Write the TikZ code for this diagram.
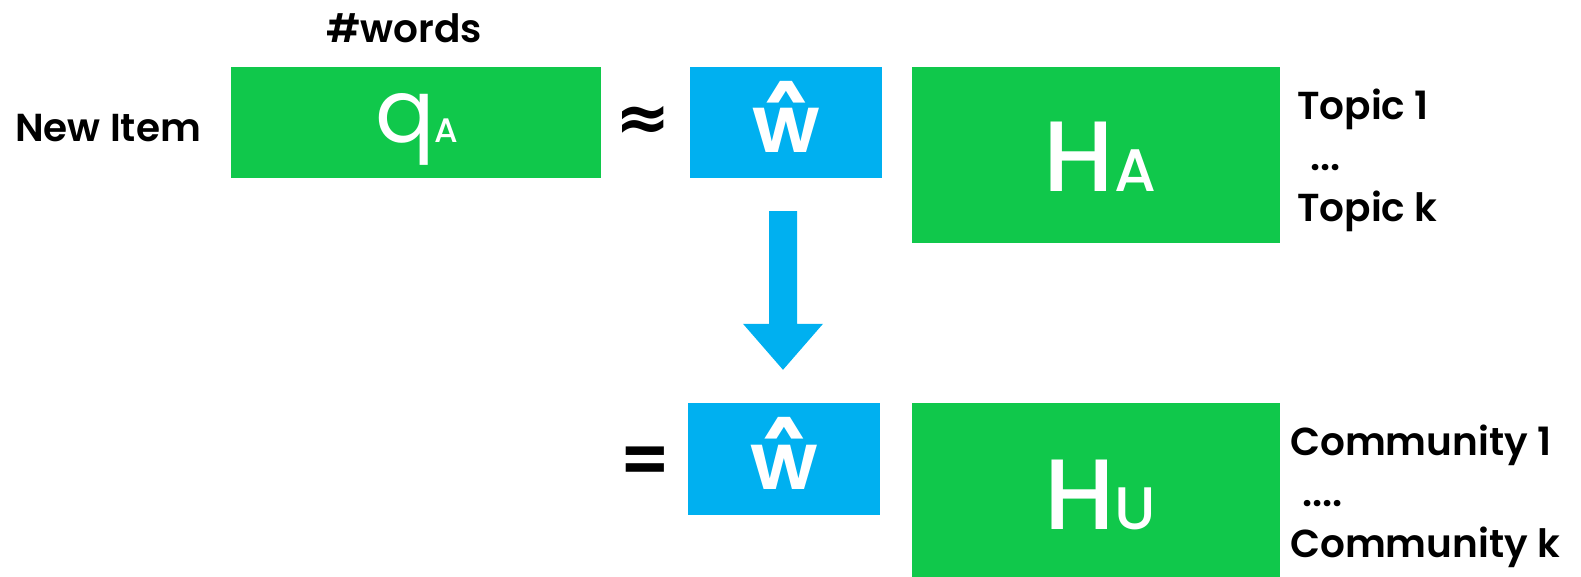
\documentclass[tikz,border=0pt]{standalone}
\usepackage{fontspec}
\setmainfont{Poppins}[BoldFont={Poppins SemiBold}]
\newfontfamily\popmed{Poppins Medium}
\newfontfamily\popbold{Poppins Bold}
\newfontfamily\dejavu{DejaVu Sans}
\usetikzlibrary{calc}
\definecolor{mgreen}{HTML}{10C84B}
\definecolor{mblue}{HTML}{00B0F0}
\newcommand{\whatsym}{\ooalign{\hfil{\popbold\fontsize{55}{55}\selectfont\raisebox{\dimexpr72pt-\height\relax}{\scalebox{1}[0.72]{\textasciicircum}}}\hfil\cr w\cr}}
\tikzset{
  gbox/.style={fill=mgreen, draw=none, minimum width=#1, inner sep=0pt},
  bbox/.style={fill=mblue, draw=none, minimum width=192pt, minimum height=111pt, inner sep=0pt},
  lbl/.style={inner sep=0pt, font=\bfseries\fontsize{39}{40}\selectfont, anchor=base west},
  wht/.style={inner sep=0pt, text=white, anchor=base},
}
\begin{document}
\begin{tikzpicture}[x=1pt, y=-1pt]
\useasboundingbox (0,0) rectangle (1581,577);
% boxes
\node[gbox=370pt, minimum height=111pt] (qa) at (416,122.5) {};
\node[bbox] (wt) at (786,122.5) {};
\node[gbox=368pt, minimum height=176pt] (ha) at (1096,155) {};
\node[bbox, minimum height=112pt] (wb) at (784,459) {};
\node[gbox=368pt, minimum height=176pt] (hu) at (1096,491) {};
% box texts
\node[wht, font=\fontsize{88}{88}\selectfont] (qat) at (417,143) {q{\popmed\fontsize{34}{34}\selectfont A}};
\node[wht, font=\popmed\fontsize{100}{100}\selectfont] (hat) at (1100,192) {H{\fontsize{60}{60}\selectfont A}};
\node[wht, font=\popmed\fontsize{100}{100}\selectfont] (hut) at (1100,529) {H{\fontsize{60}{60}\selectfont U}};
\node[wht, font=\bfseries\fontsize{80}{80}\selectfont] (wtt) at (786,153) {\whatsym};
\node[wht, font=\bfseries\fontsize{80}{80}\selectfont] (wbt) at (784,489) {\whatsym};
% labels
\node[lbl] (words) at (326,43) {\#words};
\node[lbl] (new) at (15,142) {New Item};
\node[lbl] (t1) at (1297,120) {Topic 1};
\node[lbl] (td) at (1310,171) {...};
\node[lbl] (tk) at (1297,222) {Topic k};
\node[lbl] (c1) at (1290,455) {Community 1};
\node[lbl] (cd) at (1302,506) {....};
\node[lbl] (ck) at (1290,557) {Community k};
% operators
\node[inner sep=0pt, font=\dejavu\bfseries\fontsize{66}{66}\selectfont] (approx) at (643,123) {≈};
\node[inner sep=0pt, font=\bfseries\fontsize{70}{70}\selectfont] (eq) at (645,466) {=};
% arrow
\coordinate (as) at ($(wt.south)+(-3,33)$);
\coordinate (ae) at ($(wb.north)+(-1,-33)$);
\fill[mblue] ($(as)+(-14,0)$) -- ($(as)+(14,0)$) -- ($(ae)+(14,-46)$) -- ($(ae)+(40,-46)$) -- (ae) -- ($(ae)+(-40,-46)$) -- ($(ae)+(-14,-46)$) -- cycle;
\end{tikzpicture}
\end{document}
